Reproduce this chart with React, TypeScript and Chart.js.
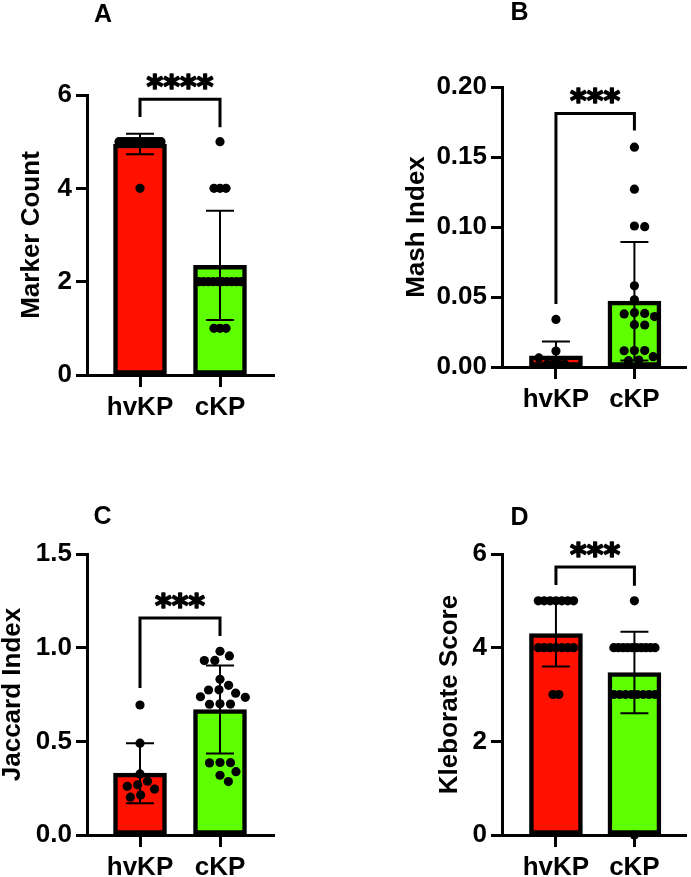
import React, { useEffect, useRef } from 'react';
import { Chart, registerables } from 'chart.js';
Chart.register(...registerables);

// ---------- data ----------
const groups = ['hvKP', 'cKP'];

// Panel A – Marker Count
const markerHv = [5, 5, 5, 5, 5, 5, 5, 5, 5, 5, 5, 5, 5, 5, 5, 5, 4];
const markerC = [5, 4, 4, 4, 2, 2, 2, 2, 2, 2, 2, 2, 2, 2, 1, 1, 1];
const markerMean = [4.95, 2.35];
const markerSd = [0.22, 1.17];
const markerTicks = [0, 2, 4, 6];
const markerTickLabels = ['0', '2', '4', '6'];
const markerBracket = [5.91, 5.53, 5.31];

// Panel B – Mash Index
const mashHv = [0.034, 0.0114, 0.0065, 0.002, 0.002, 0.002, 0.002];
const mashC = [0.157, 0.127, 0.1002, 0.1007, 0.058, 0.048, 0.036, 0.0383, 0.0379, 0.0388, 0.03, 0.0302, 0.0117, 0.0118, 0.0116, 0.0045, 0.0074, 0.005];
const mashMean = [0.008, 0.047];
const mashSd = [0.0103, 0.0423];
const mashTicks = [0, 0.05, 0.1, 0.15, 0.2];
const mashTickLabels = ['0.00', '0.05', '0.10', '0.15', '0.20'];
const mashBracket = [0.181, 0.045, 0.169];

// Panel C – Jaccard Index
const jaccardHv = [0.694, 0.49, 0.326, 0.287, 0.268, 0.26, 0.245, 0.214, 0.202];
const jaccardC = [0.981, 0.956, 0.931, 0.932, 0.831, 0.799, 0.774, 0.775, 0.757, 0.738, 0.735, 0.699, 0.7, 0.698, 0.386, 0.387, 0.385, 0.338, 0.319, 0.285];
const jaccardMean = [0.33, 0.67];
const jaccardSd = [0.16, 0.235];
const jaccardTicks = [0, 0.5, 1, 1.5];
const jaccardTickLabels = ['0.0', '0.5', '1.0', '1.5'];
const jaccardBracket = [1.158, 0.785, 1.062];

// Panel D – Kleborate Score
const kleborateHv = [5, 5, 5, 5, 5, 5, 5, 4, 4, 4, 4, 4, 4, 4, 3, 3];
const kleborateC = [5, 4, 4, 4, 4, 4, 4, 4, 4, 4, 4, 3, 3, 3, 3, 3, 3, 3, 3, 0];
const kleborateMean = [4.3, 3.47];
const kleborateSd = [0.7, 0.87];
const kleborateTicks = [0, 2, 4, 6];
const kleborateTickLabels = ['0', '2', '4', '6'];
const kleborateBracket = [5.72, 5.34, 5.32];

// ---------- styling / layout ----------
const RED = '#FF1100';
const GREEN = '#5EFF00';
const FONT = "'Liberation Sans', Arial, Helvetica, sans-serif";
const X_PX_PER_UNIT = 80;
const PLOT_H = 280;
const X_AXIS_H = 40;

type Geom = { left: number; top: number; w: number; h: number; cl: number; cr: number; ct: number; cb: number; c0: number; titleX: number; letter: [number, number] };

const panels = [
  { letter: 'A', title: 'Marker Count', hv: markerHv, c: markerC, mean: markerMean, sd: markerSd, ticks: markerTicks, tickLabels: markerTickLabels, yMax: 6, bracket: markerBracket, stars: '****',
    g: { left: 0, top: 0, w: 345, h: 438, cl: 87, cr: 274, ct: 95, cb: 375, c0: 53, titleX: 32, letter: [103, 13] } as Geom },
  { letter: 'B', title: 'Mash Index', hv: mashHv, c: mashC, mean: mashMean, sd: mashSd, ticks: mashTicks, tickLabels: mashTickLabels, yMax: 0.2, bracket: mashBracket, stars: '***',
    g: { left: 345, top: 0, w: 346, h: 438, cl: 157, cr: 345, ct: 87, cb: 367, c0: 55, titleX: 72, letter: [174.5, 11] } as Geom },
  { letter: 'C', title: 'Jaccard Index', hv: jaccardHv, c: jaccardC, mean: jaccardMean, sd: jaccardSd, ticks: jaccardTicks, tickLabels: jaccardTickLabels, yMax: 1.5, bracket: jaccardBracket, stars: '***',
    g: { left: 0, top: 438, w: 345, h: 439, cl: 87, cr: 274, ct: 116, cb: 397, c0: 53, titleX: 12, letter: [102.5, 77] } as Geom },
  { letter: 'D', title: 'Kleborate Score', hv: kleborateHv, c: kleborateC, mean: kleborateMean, sd: kleborateSd, ticks: kleborateTicks, tickLabels: kleborateTickLabels, yMax: 6, bracket: kleborateBracket, stars: '***',
    g: { left: 345, top: 438, w: 346, h: 439, cl: 157, cr: 345, ct: 116, cb: 397, c0: 55, titleX: 105, letter: [174.5, 77.5] } as Geom },
];

// horizontal arrangement of dots (column scatter): equal values form centered rows, others are swarmed
function swarmOffsets(values: number[], pxPerUnitY: number): number[] {
  const D = 10.5, ROW = 6, MAXH = 21;
  const offs = new Array(values.length).fill(0);
  const byVal = new Map<number, number[]>();
  values.forEach((v, i) => { if (!byVal.has(v)) byVal.set(v, []); byVal.get(v)!.push(i); });
  const placed: { x: number; y: number }[] = [];
  byVal.forEach((idxs, v) => {
    if (idxs.length > 1) {
      const m = idxs.length;
      const sp = Math.min(ROW, (2 * MAXH) / (m - 1));
      idxs.forEach((idx, j) => { const px = (j - (m - 1) / 2) * sp; offs[idx] = px; placed.push({ x: px, y: v * pxPerUnitY }); });
    }
  });
  const singles = values.map((v, i) => i).filter((i) => byVal.get(values[i])!.length === 1).sort((a, b) => values[b] - values[a]);
  for (const i of singles) {
    const y = values[i] * pxPerUnitY;
    const cands = [0];
    for (const p of placed) {
      const dy = Math.abs(p.y - y);
      if (dy < D) { const dx = Math.sqrt(D * D - dy * dy); cands.push(p.x + dx, p.x - dx); }
    }
    cands.sort((a, b) => Math.abs(a) - Math.abs(b));
    let best = 0;
    for (const cx of cands) {
      const ok = placed.every((p) => Math.hypot(p.x - cx, p.y - y) >= D - 0.01);
      if (ok) { best = cx; break; }
    }
    offs[i] = best;
    placed.push({ x: best, y });
  }
  return offs;
}

function PanelChart({ p }: { p: (typeof panels)[number] }) {
  const ref = useRef<HTMLCanvasElement>(null);
  useEffect(() => {
    const g = p.g;
    const pxPerUnitY = PLOT_H / p.yMax;
    const points: { x: number; y: number }[] = [];
    [p.hv, p.c].forEach((vals, gi) => {
      const offs = swarmOffsets(vals, pxPerUnitY);
      vals.forEach((v, i) => points.push({ x: gi + offs[i] / X_PX_PER_UNIT, y: v }));
    });
    const padL = Math.max(0, g.titleX - 13);
    const yW = g.cl - padL;
    const xMin = -g.c0 / X_PX_PER_UNIT;
    const xMax = (g.cr - g.cl - g.c0) / X_PX_PER_UNIT;

    const annot = {
      id: 'annot' + p.letter,
      afterDatasetsDraw(chart: any) {
        const { ctx, scales } = chart;
        const x = scales.x, y = scales.y;
        ctx.save();
        ctx.strokeStyle = '#000';
        ctx.lineCap = 'butt';
        // error bars (mean ± SD)
        ctx.lineWidth = 2;
        for (let i = 0; i < 2; i++) {
          const cx = x.getPixelForValue(i);
          const hi = p.mean[i] + p.sd[i];
          const lo = p.mean[i] - p.sd[i];
          const yt = y.getPixelForValue(hi);
          const yb = y.getPixelForValue(Math.max(lo, 0));
          ctx.beginPath();
          ctx.moveTo(cx, yt); ctx.lineTo(cx, yb);
          ctx.moveTo(cx - 14, yt); ctx.lineTo(cx + 14, yt);
          if (lo > 0) { ctx.moveTo(cx - 14, yb); ctx.lineTo(cx + 14, yb); }
          ctx.stroke();
        }
        // significance bracket
        const [bt, bl, br] = p.bracket;
        const x0 = x.getPixelForValue(0), x1 = x.getPixelForValue(1);
        const ytop = y.getPixelForValue(bt);
        ctx.lineWidth = 3;
        ctx.beginPath();
        ctx.moveTo(x0, y.getPixelForValue(bl));
        ctx.lineTo(x0, ytop);
        ctx.lineTo(x1, ytop);
        ctx.lineTo(x1, y.getPixelForValue(br));
        ctx.stroke();
        // stars
        ctx.fillStyle = '#000';
        ctx.font = "bold 32px 'DejaVu Sans', sans-serif";
        ctx.textAlign = 'center';
        ctx.textBaseline = 'alphabetic';
        const m = ctx.measureText(p.stars);
        const target = ytop - 18;
        const yy = target - (m.actualBoundingBoxDescent - m.actualBoundingBoxAscent) / 2;
        ctx.lineWidth = 1.6;
        ctx.lineJoin = 'round';
        ctx.fillText(p.stars, (x0 + x1) / 2, yy);
        ctx.strokeText(p.stars, (x0 + x1) / 2, yy);
        // panel letter
        ctx.font = `bold 25px ${FONT}`;
        const ml = ctx.measureText(p.letter);
        const ly = g.letter[1] - (ml.actualBoundingBoxDescent - ml.actualBoundingBoxAscent) / 2;
        ctx.fillText(p.letter, g.letter[0], ly);
        ctx.restore();
      },
    };

    const chart = new Chart(ref.current!, {
      type: 'bar',
      data: {
        datasets: [
          { type: 'scatter', data: points, backgroundColor: '#000', pointRadius: 4.6, pointHoverRadius: 4.6, borderWidth: 0, order: 0, clip: false } as any,
          { type: 'bar', data: [{ x: 0, y: p.mean[0] }, { x: 1, y: p.mean[1] }], backgroundColor: [RED, GREEN], borderColor: '#000', borderWidth: 4.5, borderSkipped: false, barThickness: 53, order: 1, clip: false } as any,
        ],
      },
      options: {
        responsive: false,
        animation: false,
        events: [],
        layout: { padding: { left: padL, right: g.w - g.cr, top: g.ct, bottom: g.h - g.cb - X_AXIS_H } },
        plugins: { legend: { display: false }, tooltip: { enabled: false } },
        scales: {
          x: {
            type: 'linear', min: xMin, max: xMax, offset: false,
            grid: { display: true, drawOnChartArea: false, drawTicks: true, tickLength: 12, tickWidth: 3, tickColor: '#000', color: '#000', offset: false },
            border: { display: true, width: 3, color: '#000' },
            ticks: { color: '#000', padding: 5, font: { family: FONT, size: 26, weight: 'bold' }, callback: (v: any) => groups[v] ?? '' },
            afterBuildTicks: (s: any) => { s.ticks = [{ value: 0 }, { value: 1 }]; },
            afterFit: (s: any) => { s.height = X_AXIS_H; },
          } as any,
          y: {
            type: 'linear', min: 0, max: p.yMax,
            grid: { display: true, drawOnChartArea: false, drawTicks: true, tickLength: 11, tickWidth: 3, tickColor: '#000', color: '#000' },
            border: { display: true, width: 3, color: '#000' },
            ticks: { color: '#000', padding: 4, font: { family: FONT, size: 26, weight: 'bold' }, callback: (v: any) => { const k = p.ticks.findIndex((t) => Math.abs(t - v) < 1e-9); return k >= 0 ? p.tickLabels[k] : ''; } },
            afterBuildTicks: (s: any) => { s.ticks = p.ticks.map((t) => ({ value: t })); },
            afterFit: (s: any) => { s.width = yW; },
            title: { display: true, text: p.title, color: '#000', padding: { top: 0, bottom: 0 }, font: { family: FONT, size: 26, weight: 'bold', lineHeight: 1 } },
          } as any,
        },
      },
      plugins: [annot],
    } as any);
    return () => chart.destroy();
  }, [p]);
  return (
    <canvas ref={ref} width={p.g.w} height={p.g.h}
      style={{ position: 'absolute', left: p.g.left, top: p.g.top, width: p.g.w, height: p.g.h }} />
  );
}

export default function App() {
  return (
    <div style={{ position: 'absolute', left: 0, top: 0, width: 691, height: 877, background: '#fff', overflow: 'hidden' }}>
      {panels.map((p) => <PanelChart key={p.letter} p={p} />)}
    </div>
  );
}
